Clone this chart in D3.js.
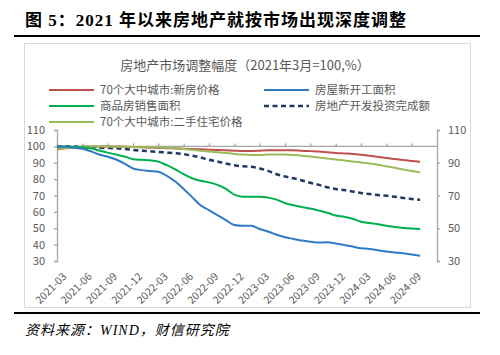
<!DOCTYPE html>
<html><head><meta charset="utf-8">
<script src="https://cdn.jsdelivr.net/npm/d3@7"></script>
<style>body{margin:0;background:#fff}svg{display:block}</style>
</head><body>
<svg id="c" width="500" height="355"></svg>
<script>
const months = d3.range(0, 44); // 2021-03 .. 2024-10
const tickLabels = ["2021-03","2021-06","2021-09","2021-12","2022-03","2022-06","2022-09","2022-12","2023-03","2023-06","2023-09","2023-12","2024-03","2024-06","2024-09"];
const leftTicks = [30,40,50,60,70,80,90,100,110];
const rightTicks = [30,50,70,90,110];

const newHousePrice = [98.3,98.8,99.3,99.7,99.9,100,100,99.9,99.8,99.6,99.4,99.2,99,98.9,98.7,98.6,98.4,98.2,98,97.8,97.6,97.4,97.2,97.2,97.4,97.6,97.7,97.7,97.6,97.4,97.1,96.8,96.4,96.0,95.7,95.4,94.9,94.3,93.6,92.9,92.3,91.7,91.1,90.6];
const newStarts = [100,99.8,99.2,98.5,97,95,93.7,92,89.5,86.5,85.5,85,84.5,82,78.5,74,69,64,61,58,55,52,51.5,51.5,49.5,48,46,44.5,43.5,42.5,41.8,41.3,41.4,40.7,39.8,38.8,37.8,37.4,36.6,35.8,35.2,34.7,34,33.2];
const salesArea = [100,99.9,99.7,99.4,98.8,97.5,96.2,95,93.8,92.2,91.8,91.5,90.7,88.5,86,83,80.5,79,78,76.5,74,70.5,69.3,69.3,69.2,68.7,67.5,65.3,64,63,62,60.8,59.5,57.8,57,55.8,54,53.2,52.5,51.5,50.8,50.2,49.8,49.6];
const investment = [100,100,99.9,99.7,99.5,99.2,99,98.8,98.4,97.8,97.3,97,96.6,96.2,95.8,95.2,94.3,93.2,91.8,90.8,89.5,88.5,87.8,87.6,86.5,85,83,81.6,80.5,79.2,77.8,76.5,75,74,73.3,72.5,71.5,70.9,70.3,69.8,69.2,68.5,67.9,67.3];
const secondHandPrice = [98.5,99,99.5,99.8,100,100,99.9,99.8,99.7,99.6,99.5,99.4,99.3,99.1,98.8,98.4,97.9,97.4,96.9,96.4,95.9,95.4,95,94.8,94.8,95,95.1,95,94.7,94.3,93.8,93.2,92.6,92.0,91.4,90.8,90.2,89.6,88.8,87.8,86.9,85.9,85,84.2];

const seriesNames = ["70个大中城市:新房价格","商品房销售面积","70个大中城市:二手住宅价格","房屋新开工面积","房地产开发投资完成额"];
const seriesData = [newHousePrice, salesArea, secondHandPrice, newStarts, investment];
const seriesColors = ["#C0504D","#00B050","#9BBB59","#2E7BC4","#1F3864"];
const seriesDash = [null,null,null,null,"5,3.5"];

const svg = d3.select("#c");
const font = "'Noto Sans CJK SC','Noto Sans',sans-serif";
const grey = "#595959";
const axisGrey = "#A6A6A6";

// title
svg.append("text").attr("x",25).attr("y",26)
  .attr("font-family","'Liberation Serif','Noto Sans CJK SC',serif").attr("font-weight","bold")
  .attr("font-size",17).attr("letter-spacing",1).attr("fill","#000")
  .text("图 5：2021 年以来房地产就按市场出现深度调整");
svg.append("line").attr("x1",14).attr("x2",480).attr("y1",36).attr("y2",36).attr("stroke","#000").attr("stroke-width",2);
svg.append("line").attr("x1",14).attr("x2",480).attr("y1",313).attr("y2",313).attr("stroke","#000").attr("stroke-width",2);
svg.append("text").attr("x",25).attr("y",335)
  .attr("font-family","'Liberation Serif','Noto Sans CJK SC',serif").attr("font-style","italic")
  .attr("font-size",14).attr("letter-spacing",1).attr("fill","#000")
  .text("资料来源：WIND，财信研究院");

// chart frame
svg.append("rect").attr("x",24.5).attr("y",43.5).attr("width",446).attr("height",264)
  .attr("fill","#fff").attr("stroke","#D9D9D9").attr("stroke-width",1);

// legend title
svg.append("text").attr("x",245).attr("y",70).attr("text-anchor","middle")
  .attr("font-family",font).attr("font-size",13).attr("fill",grey)
  .text("房地产市场调整幅度（2021年3月=100,%）");

// scales
const x = d3.scaleLinear().domain([0,45]).range([57,437]);
const y = d3.scaleLinear().domain([30,110]).range([261,130]);

// axes
const gl = svg.append("g").attr("transform","translate(57,0)")
  .call(d3.axisLeft(y).tickValues(leftTicks).tickSize(3).tickPadding(9));
const gr = svg.append("g").attr("transform","translate(437,0)")
  .call(d3.axisRight(y).tickValues(rightTicks).tickSize(3).tickPadding(8));
const gx = svg.append("g").attr("transform",`translate(0,${y(100)})`)
  .call(d3.axisTop(x).tickValues(d3.range(0,45,3)).tickSize(3).tickFormat(""));
[gl,gr,gx].forEach(g=>{
  g.select(".domain").attr("stroke",axisGrey).attr("stroke-width",1.3);
  g.selectAll(".tick line").attr("stroke",axisGrey).attr("stroke-width",1.3);
  g.selectAll("text").attr("fill",grey).attr("font-family",font).attr("font-size",11);
});
gx.select(".domain").attr("d",`M${x(0)},0H${x(45)}`);

// x labels rotated
svg.append("g").selectAll("text").data(tickLabels).join("text")
  .attr("transform",(d,i)=>`translate(${x(i*3)+5},${272}) rotate(-45)`)
  .attr("text-anchor","end").attr("dy","0.7em")
  .attr("font-family",font).attr("font-size",10.5).attr("fill",grey)
  .text(d=>d);

// lines
const line = d3.line().x((d,i)=>x(months[i])).y(d=>y(d)).curve(d3.curveMonotoneX);
const drawOrder = [4,0,2,1,3];
drawOrder.forEach(k=>{
  svg.append("path").datum(seriesData[k]).attr("d",line)
    .attr("fill","none").attr("stroke",seriesColors[k])
    .attr("stroke-width",k===4?2.5:2)
    .attr("stroke-dasharray",seriesDash[k]);
});

// legend
const legPos = [[49,90],[49,106],[49,122],[264,90],[264,106]];
seriesNames.forEach((n,k)=>{
  const [lx,ly] = legPos[k];
  svg.append("line").attr("x1",lx).attr("x2",lx+45).attr("y1",ly).attr("y2",ly)
    .attr("stroke",seriesColors[k]).attr("stroke-width",k===4?2.5:2)
    .attr("stroke-dasharray",seriesDash[k]);
  svg.append("text").attr("x",lx+51).attr("y",ly+4)
    .attr("font-family",font).attr("font-size",11.5).attr("fill",grey).text(n);
});
</script>
</body></html>
